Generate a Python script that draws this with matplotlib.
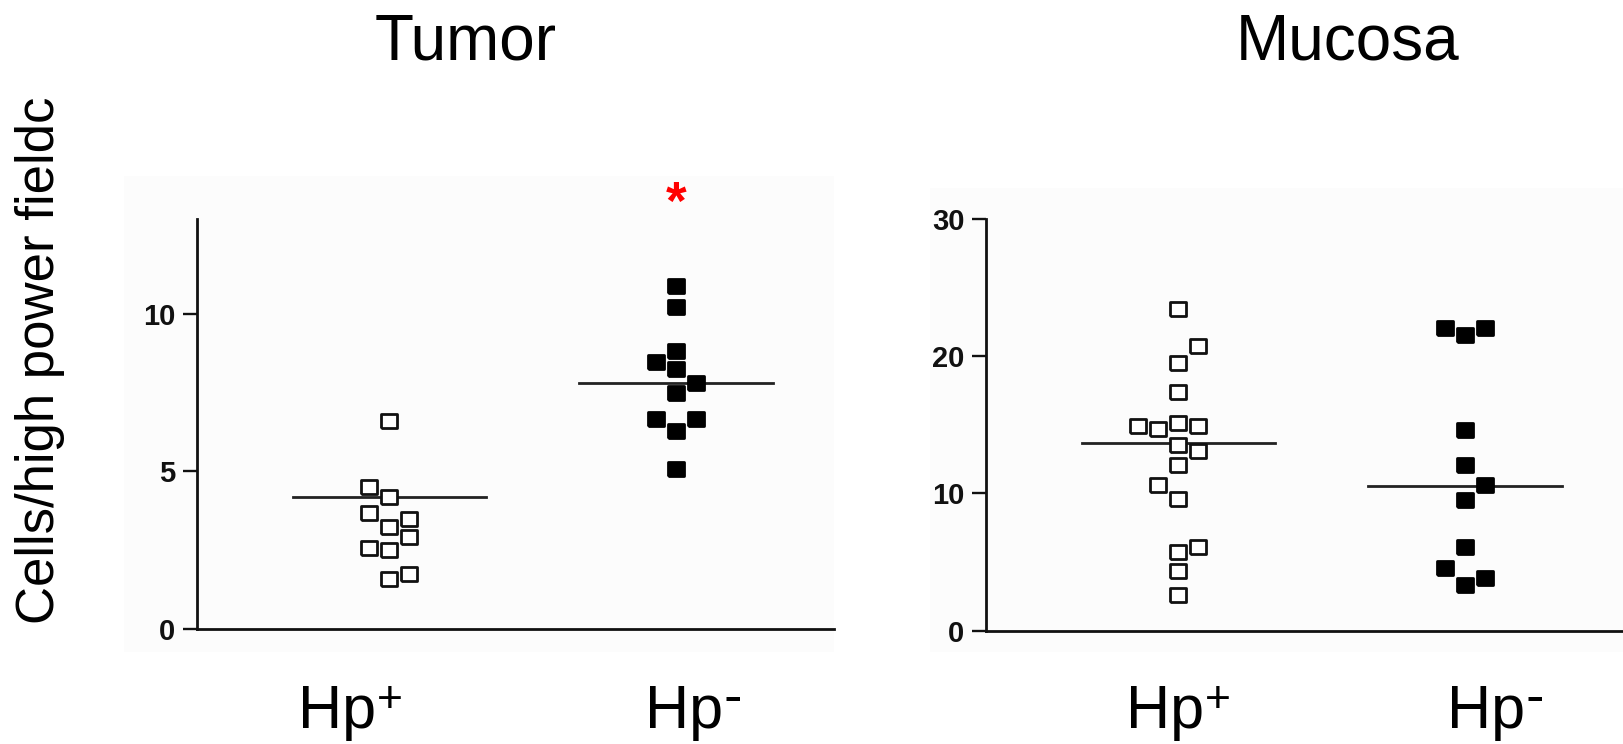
import matplotlib
matplotlib.use("Agg")
import matplotlib.pyplot as plt
from matplotlib.patches import Rectangle

plt.rcParams['font.family'] = ['Liberation Sans', 'DejaVu Sans']

# ---------------- data ----------------
groups = ["Hp+", "Hp-"]
panel_titles = ["Tumor", "Mucosa"]
y_label = "Cells/high power fieldc"

tumor_hp_pos = [6.58, 4.51, 4.18, 3.67, 3.50, 3.25, 2.91, 2.58, 2.49, 1.74, 1.57]
tumor_hp_pos_col = [0, -1, 0, -1, 1, 0, 1, -1, 0, 1, 0]
tumor_hp_neg = [10.86, 10.20, 8.81, 8.47, 8.23, 7.81, 7.47, 6.65, 6.65, 6.28, 5.07]
tumor_hp_neg_col = [0, 0, 0, -1, 0, 1, 0, -1, 1, 0, 0]
tumor_lines = [4.20, 7.81]

mucosa_hp_pos = [23.44, 20.74, 19.48, 17.42, 14.91, 14.67, 15.11, 14.91, 13.53,
                 13.12, 12.07, 10.61, 9.59, 6.12, 5.76, 4.37, 2.60]
mucosa_hp_pos_col = [0, 1, 0, 0, -2, -1, 0, 1, 0, 1, 0, -1, 0, 1, 0, 0, 0]
mucosa_hp_neg = [22.08, 21.54, 22.08, 14.62, 12.07, 10.61, 9.52, 6.12, 4.59, 3.81, 3.33]
mucosa_hp_neg_col = [-1, 0, 1, 0, 0, 1, 0, 0, -1, 1, 0]
mucosa_lines = [13.65, 10.54]

tumor_ticks = [0, 5, 10]
mucosa_ticks = [0, 10, 20, 30]
tumor_ymax = 13
mucosa_ymax = 30
significance = "*"

# ---------------- figure ----------------
W, H = 1623, 744
fig = plt.figure(figsize=(W / 100, H / 100), dpi=100)
fig.patch.set_facecolor("white")

# faint panel backgrounds (scanned figure look)
for (x0, y0, x1, y1) in [(124, 176, 834, 652), (930, 188, 1623, 652)]:
    fig.patches.append(Rectangle((x0 / W, 1 - y1 / H), (x1 - x0) / W, (y1 - y0) / H,
                                 transform=fig.transFigure, facecolor="#fcfcfc",
                                 edgecolor="none", zorder=-10))

STEP = 0.07
rect = [(-1, -0.87), (1, -0.87), (1, 0.87), (-1, 0.87), (-1, -0.87)]


def panel(rect_pos, ymax, ticks, pos, pos_col, neg, neg_col, lines):
    ax = fig.add_axes(rect_pos)
    ax.set_zorder(1)
    ax.patch.set_alpha(0)
    ax.set_xlim(-0.67, 1.55)
    ax.set_ylim(0, ymax)
    for s in ["top", "right"]:
        ax.spines[s].set_visible(False)
    for s in ["left", "bottom"]:
        ax.spines[s].set_linewidth(2.0)
        ax.spines[s].set_color("#111111")
    ax.set_xticks([])
    ax.set_yticks(ticks)
    ax.tick_params(axis="y", direction="out", length=10, width=1.7, pad=5.5,
                   labelsize=21, colors="#111111")
    for lab in ax.get_yticklabels():
        lab.set_fontweight("bold")
    ax.plot([0 + c * STEP for c in pos_col], pos, linestyle="none", marker=rect,
            markersize=12, markerfacecolor="white", markeredgecolor="#111111",
            markeredgewidth=2.0, clip_on=False, zorder=3)
    ax.plot([1 + c * STEP for c in neg_col], neg, linestyle="none", marker=rect,
            markersize=12, markerfacecolor="#000000", markeredgecolor="#000000",
            markeredgewidth=2.0, clip_on=False, zorder=3)
    for i, v in enumerate(lines):
        ax.plot([i - 0.337, i + 0.337], [v, v], color="#222222", lw=2.0, zorder=2)
    return ax


ax1 = panel([197 / W, 1 - 629 / H, 637 / W, 410 / H], tumor_ymax, tumor_ticks,
            tumor_hp_pos, tumor_hp_pos_col, tumor_hp_neg, tumor_hp_neg_col, tumor_lines)
ax2 = panel([986 / W, 1 - 630.7 / H, 637 / W, 411.7 / H], mucosa_ymax, mucosa_ticks,
            mucosa_hp_pos, mucosa_hp_pos_col, mucosa_hp_neg, mucosa_hp_neg_col, mucosa_lines)

# significance star above Tumor Hp-
ax1.text(1.0, 1.035, significance, transform=ax1.get_xaxis_transform(), color="red",
         fontsize=38, fontweight="bold", ha="center", va="center")

# titles
fig.text(466 / W, 1 - 60 / H, panel_titles[0], fontsize=46, ha="center", va="baseline")
fig.text(1348 / W, 1 - 60 / H, panel_titles[1], fontsize=46, ha="center", va="baseline")

# y label
fig.text(40 / W, 1 - 360 / H, y_label, fontsize=38, rotation=90, ha="center", va="center")

# group labels with superscripts
label_left_x = [298, 645, 1126, 1447]
for i, xl in enumerate(label_left_x):
    g = groups[i % 2]
    t = fig.text(xl / W, 1 - 728 / H, g[:2], fontsize=44, ha="left", va="baseline")
    sign = g[2]
    plt.annotate(sign, xy=(1.0, 1.0), xycoords=t, xytext=(0.5, 3 if sign == "+" else 7),
                 textcoords="offset points", fontsize=32 if sign == "+" else 40,
                 ha="left", va="top", annotation_clip=False)

fig.savefig("out.png", dpi=100)
